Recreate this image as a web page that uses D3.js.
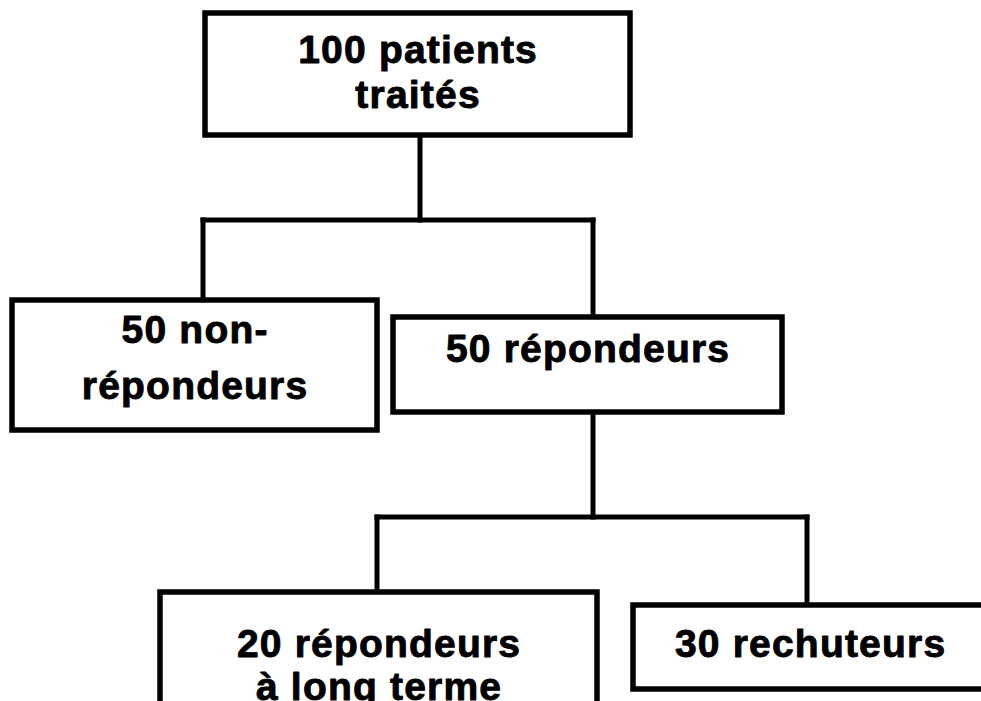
<!DOCTYPE html>
<html>
<head>
<meta charset="utf-8">
<script src="https://cdn.jsdelivr.net/npm/d3@7/dist/d3.min.js"></script>
<style>
  html, body { margin: 0; padding: 0; background: #fff; }
  svg { display: block; }
  text { font-family: "Liberation Sans", Arial, Helvetica, sans-serif; font-weight: bold; fill: #000; }
</style>
</head>
<body>
<svg id="chart" width="981" height="701"></svg>
<script>
// ---- data ----
const nodeIds    = ["all", "nonresp", "resp", "longterm", "relapse"];
const nodeCounts = [100, 50, 50, 20, 30];
const nodeLines  = [
  ["100 patients", "traités"],
  ["50 non-", "répondeurs"],
  ["50 répondeurs"],
  ["20 répondeurs", "à long terme"],
  ["30 rechuteurs"]
];
const nodeParents = [null, "all", "all", "resp", "resp"];

// ---- layout (pixel geometry, kept apart from data) ----
const boxX0   = [205, 12, 393, 160, 633];
const boxX1   = [630, 377, 782, 597, 990];
const boxY0   = [13, 300, 317, 592, 605];
const boxY1   = [135, 430, 412, 760, 689];
const baselines = [[63, 108], [343, 399], [362], [657, 700], [657]];
const dropX   = [420, 203, 593, 377, 807];   // where connector meets the box
const busY    = {all: 220, resp: 517};

const svg = d3.select("#chart");
const STROKE = 5.5;

const nodes = nodeIds.map((id, i) => ({
  id, count: nodeCounts[i], lines: nodeLines[i], parent: nodeParents[i],
  x0: boxX0[i], x1: boxX1[i], y0: boxY0[i], y1: boxY1[i],
  base: baselines[i], dropX: dropX[i]
}));
const byId = new Map(nodes.map(n => [n.id, n]));

// connectors: stem from parent, horizontal bus, drops to children
const parents = Array.from(new Set(nodes.filter(n => n.parent).map(n => n.parent)));
const conn = svg.append("g").attr("stroke", "#000").attr("stroke-width", 5)
  .attr("fill", "none").attr("stroke-linecap", "square");
parents.forEach(pid => {
  const p = byId.get(pid);
  const kids = nodes.filter(n => n.parent === pid);
  const by = busY[pid];
  conn.append("line").attr("x1", p.dropX).attr("x2", p.dropX).attr("y1", p.y1).attr("y2", by);
  const xs = kids.map(k => k.dropX);
  conn.append("line").attr("x1", d3.min(xs)).attr("x2", d3.max(xs)).attr("y1", by).attr("y2", by);
  kids.forEach(k => {
    conn.append("line").attr("x1", k.dropX).attr("x2", k.dropX).attr("y1", by).attr("y2", k.y0);
  });
});

// boxes
const g = svg.append("g").selectAll("g.node").data(nodes).join("g").attr("class", "node");
g.append("rect")
  .attr("x", d => d.x0).attr("y", d => d.y0)
  .attr("width", d => d.x1 - d.x0).attr("height", d => d.y1 - d.y0)
  .attr("fill", "#fff").attr("stroke", "#000").attr("stroke-width", STROKE);

g.each(function(d) {
  const cx = (d.x0 + Math.min(d.x1, 987)) / 2;
  d3.select(this).selectAll("text").data(d.lines).join("text")
    .attr("x", cx + 0.6)
    .attr("y", (t, i) => d.base[i])
    .attr("text-anchor", "middle")
    .attr("font-size", 39)
    .attr("letter-spacing", "1.2px")
    .attr("stroke", "#000")
    .attr("stroke-width", 0.9)
    .attr("stroke-linejoin", "round")
    .text(t => t);
});
</script>
</body>
</html>
